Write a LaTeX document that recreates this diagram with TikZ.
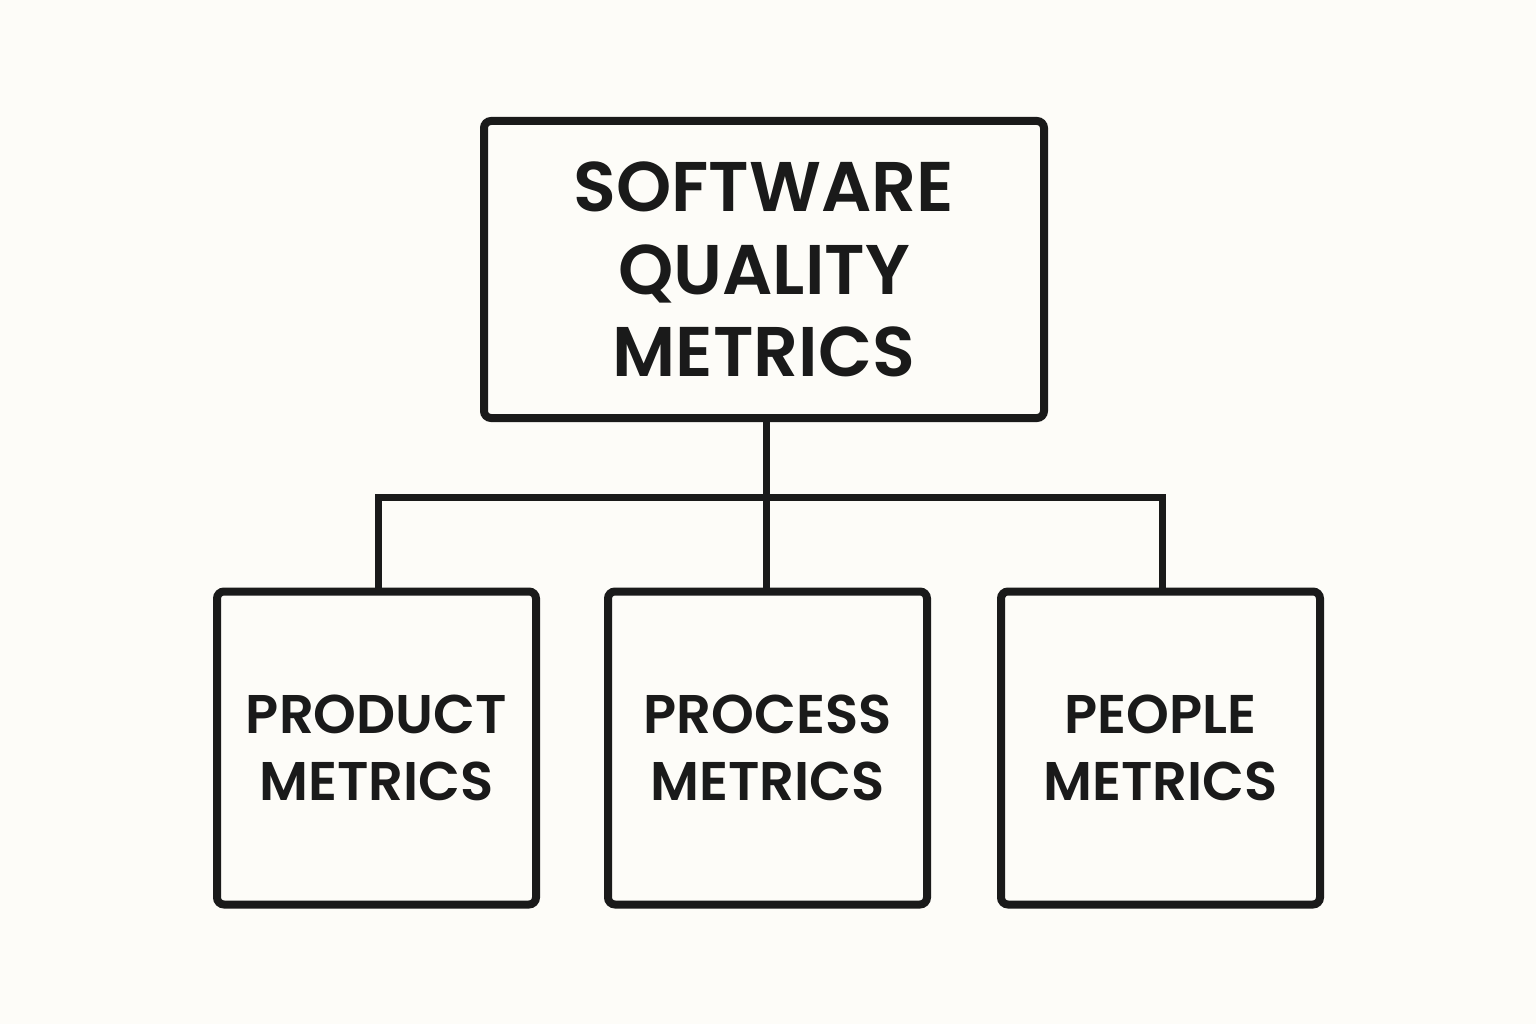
\documentclass[tikz,border=0pt]{standalone}
\usepackage{fontspec}
\setmainfont{Poppins}[BoldFont={* SemiBold}]
\usetikzlibrary{positioning}
\definecolor{paper}{HTML}{FDFCF8}
\definecolor{ink}{HTML}{1A1A1A}

\begin{document}
\begin{tikzpicture}[box/.style={draw=ink, line width=0.08cm, rounded corners=2pt, align=center, inner sep=0pt, text=ink, font=\bfseries},
  link/.style={draw=ink, line width=0.07cm}]
\fill[paper] (0,0) rectangle (15.36,10.24);
\useasboundingbox (0,0) rectangle (15.36,10.24);
\node[box, minimum width=5.6cm, minimum height=2.97cm, font=\fontsize{20}{23.5}\selectfont\bfseries] (m0) at (7.64,7.545) {SOFTWARE\\QUALITY\\METRICS};
\node[box, minimum width=3.19cm, minimum height=3.13cm, font=\fontsize{15.5}{19}\selectfont\bfseries] (m1) at (3.765,2.76) {PRODUCT\\METRICS};
\node[box, minimum width=3.19cm, minimum height=3.13cm, font=\fontsize{15.5}{19}\selectfont\bfseries] (m2) at (7.675,2.76) {PROCESS\\METRICS};
\node[box, minimum width=3.19cm, minimum height=3.13cm, font=\fontsize{15.5}{19}\selectfont\bfseries] (m3) at (11.605,2.76) {PEOPLE\\METRICS};
% Connectors
\coordinate (bus) at (7.66,5.27);
\draw[link] (m0.south -| bus) -- (bus);
\draw[link] (m1.north -| 3.78,0) |- (bus) -| (m3.north -| 11.62,0);
\draw[link] (m2.north -| bus) -- (bus);
\end{tikzpicture}
\end{document}
